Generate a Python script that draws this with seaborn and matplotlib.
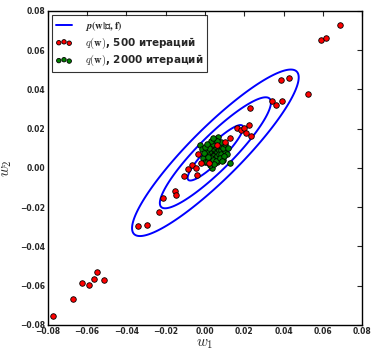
import numpy as np
import pandas as pd
import matplotlib
matplotlib.use('Agg')
import matplotlib.pyplot as plt
import seaborn as sns
from matplotlib.lines import Line2D

# posterior p(w|D,f): mean and covariance
post_mean = [0.0053, 0.0077]
post_cov = [[2.0e-4, 1.81e-4],
            [1.81e-4, 2.0e-4]]
sigma_levels = [1, 2, 3]

# q(w) after 500 iterations
red_w1 = [0.069, 0.0589, 0.0615, 0.0387, 0.0428, 0.0523, 0.034, 0.0363, 0.0394,
          0.0229, 0.0224, 0.0165, 0.0185, 0.0198, 0.0207, 0.0236, 0.0127, 0.0102,
          0.0063, -0.0034, -0.0022, -0.0066, -0.0088, -0.0045, 0.002, -0.004,
          -0.0109, -0.0153, -0.0146, -0.0216, -0.0233, -0.0297, -0.034, -0.0773,
          -0.0673, -0.0628, -0.059, -0.0566, -0.0552, -0.0513]
red_w2 = [0.073, 0.0653, 0.0664, 0.045, 0.0456, 0.0377, 0.0339, 0.0321, 0.0343,
          0.0304, 0.0217, 0.0201, 0.0191, 0.0201, 0.018, 0.0162, 0.0151, 0.0133,
          0.0116, 0.0072, 0.0023, 0.0013, -0.0006, -0.0001, 0.0023, -0.0038,
          -0.0043, -0.0118, -0.0138, -0.0153, -0.0227, -0.029, -0.0297, -0.0756,
          -0.0668, -0.0587, -0.0598, -0.0566, -0.0529, -0.0573]

# q(w) after 2000 iterations (values in 1e-3)
green_w1 = [3, 4, 5, 2, 3, 5, 6, 4, 2, 6, 5, 3, 7, 4, 1, 6, 7, 2, 4, 5, 3, 7, 8, 1,
            6, 4, 8, 0, 2, 8, -2.5, -1.5, -1, 0, 1, 3.5, 6.1, 9, 10.3, 12.7, 11, 9,
            10, 6.8, 5, 3, 8, 0, -0.5, 1.5, 5.5, 7.5, 9.5, 2.5, 4.5, 6, 4, 8.5,
            11.5, 1]
green_w2 = [7, 8, 7, 6, 9, 9, 8, 6, 8, 10, 5, 5, 9, 10, 7, 6, 7, 4, 4, 11, 11, 11,
            9, 9, 12, 12, 7, 6, 10, 11, 11.9, 9.5, 5, 3, 2.8, -0.3, 2.8, 4, 8.5,
            2.6, 7, 10, 12, 15.8, 14, 13.5, 13, 10.5, 7.5, 5.5, 3.5, 5, 6, 1.5, 2,
            13.8, 15, 3.5, 10, 12]

ticks = [-0.08, -0.06, -0.04, -0.02, 0.00, 0.02, 0.04, 0.06, 0.08]

sns.set_style('white')
plt.rcParams['font.family'] = ['DejaVu Sans']
plt.rcParams['font.weight'] = 'bold'
plt.rcParams['mathtext.fontset'] = 'cm'

red = pd.DataFrame({'w1': red_w1, 'w2': red_w2})
green = pd.DataFrame({'w1': np.array(green_w1) * 1e-3, 'w2': np.array(green_w2) * 1e-3})

fig = plt.figure(figsize=(3.71, 3.52), dpi=100)
ax = fig.add_axes([0.129, 0.077, 0.847, 0.892])

# contours of the gaussian at 1, 2, 3 sigma
g1, g2 = np.meshgrid(np.linspace(-0.08, 0.08, 400), np.linspace(-0.08, 0.08, 400))
d = np.stack([g1 - post_mean[0], g2 - post_mean[1]], axis=-1)
inv = np.linalg.inv(np.array(post_cov))
mahal = np.einsum('...i,ij,...j->...', d, inv, d)
ax.contour(g1, g2, mahal, levels=[s ** 2 for s in sigma_levels],
           colors='#0000ff', linewidths=1.4, zorder=1)

sns.scatterplot(data=green, x='w1', y='w2', color='#007f00', edgecolor='black',
                linewidth=0.6, s=16, ax=ax, zorder=2,
                label='$q(\\mathbf{w})$, 2000 итераций')
sns.scatterplot(data=red, x='w1', y='w2', color='#ff0000', edgecolor='black',
                linewidth=0.6, s=16, ax=ax, zorder=3,
                label='$q(\\mathbf{w})$, 500 итераций')

ax.set_xlim(-0.08, 0.08)
ax.set_ylim(-0.08, 0.08)
ax.set_xticks(ticks)
ax.set_yticks(ticks)
ax.set_xticklabels([f'{t:.2f}'.replace('-', '\u2212') for t in ticks])
ax.set_yticklabels([f'{t:.2f}'.replace('-', '\u2212') for t in ticks])
ax.tick_params(direction='in', length=3.5, width=0.8, top=True, right=True,
               labelsize=5.5)
ax.tick_params(axis='x', pad=1.5)
ax.tick_params(axis='y', pad=2)
for lab in ax.get_xticklabels() + ax.get_yticklabels():
    lab.set_fontweight('bold')
for sp in ax.spines.values():
    sp.set_color('black')
    sp.set_linewidth(1.0)

ax.set_xlabel('$w_1$', fontsize=11, labelpad=0)
ax.set_ylabel('$w_2$', fontsize=11, labelpad=4)

handles, labels = ax.get_legend_handles_labels()
line_h = Line2D([], [], color='#0000ff', linewidth=1.4)
leg = ax.legend([line_h, handles[1], handles[0]],
                ['$p(\\mathbf{w}|\\mathfrak{D},\\mathbf{f})$', labels[1], labels[0]],
                loc='upper left', scatterpoints=3, fontsize=7.5, frameon=True,
                fancybox=False, borderpad=0.35, handlelength=1.6,
                handletextpad=1.2, labelspacing=0.25, markerscale=0.8,
                borderaxespad=0.4)
leg.get_frame().set_edgecolor('black')
leg.get_frame().set_linewidth(0.8)
for t in leg.get_texts():
    t.set_fontweight('bold')
leg.get_texts()[0].set_math_fontfamily('stix')

fig.savefig('out.png', dpi=100, facecolor='white')
